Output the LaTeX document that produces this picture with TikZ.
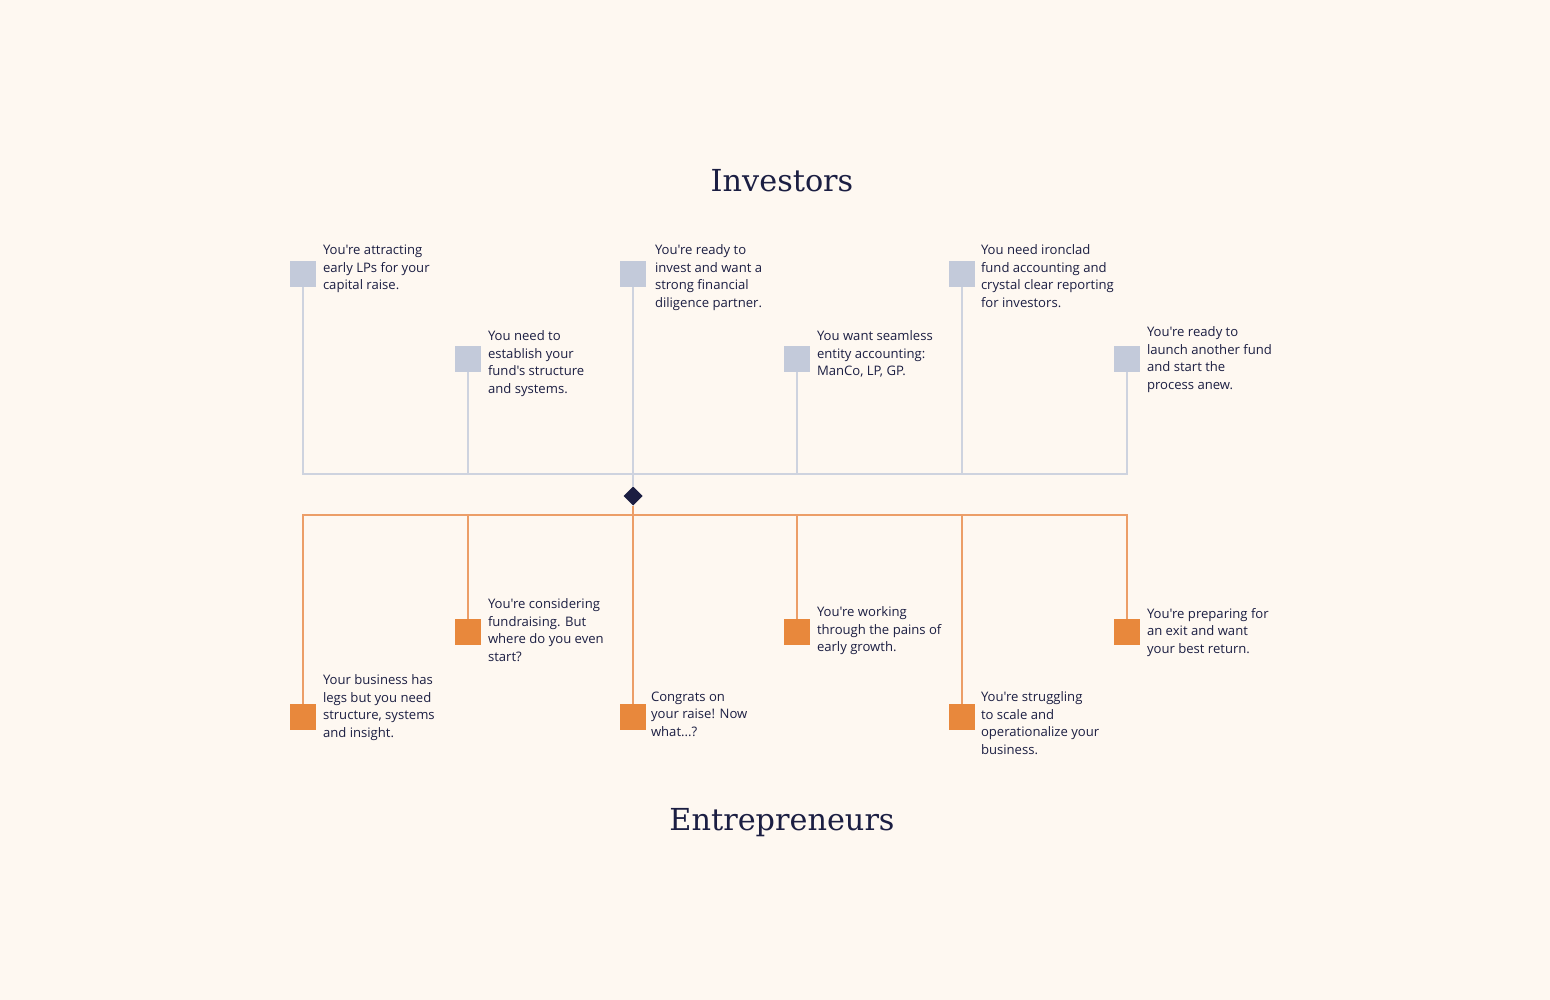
\documentclass[tikz,border=0pt]{standalone}
\usepackage{fontspec}
\usepackage{tikz}
\usetikzlibrary{positioning,calc,shapes.geometric}
\newfontfamily\bodyfont{Open Sans}
\newfontfamily\headfont{DejaVu Serif}
\definecolor{paper}{RGB}{254,248,241}
\definecolor{navy}{RGB}{27,30,66}
\definecolor{invgray}{RGB}{195,202,218}
\definecolor{invlinegray}{RGB}{206,211,223}
\definecolor{entorange}{RGB}{232,136,60}
\definecolor{entlineorange}{RGB}{236,158,104}
\tikzset{
	every node/.style={inner sep=0pt,outer sep=0pt},
	invbox/.style={rectangle,fill=invgray,minimum size=26pt},
	entbox/.style={rectangle,fill=entorange,minimum size=26pt},
	invline/.style={draw=invlinegray,line width=1.6pt},
	entline/.style={draw=entlineorange,line width=1.6pt},
	note/.style={anchor=north west,align=left,text=navy,font=\bodyfont\fontsize{13.1}{17.5}\selectfont},
	heading/.style={anchor=base,text=navy,font=\headfont\fontsize{30.3}{36}\selectfont}
}

\begin{document}
\begin{tikzpicture}[x=1pt,y=-1pt]
      \fill[paper] (0,0) rectangle (1550,1000);
      \useasboundingbox (0,0) rectangle (1550,1000);
      % headings
      \node[heading] (invtitle) at (782,192) {Investors};
      \node[heading] (enttitle) at (782,830) {Entrepreneurs};
      % investor steps
      \node[invbox] (i1) at (303,274) {};
      \node[invbox] (i2) at (468,359) {};
      \node[invbox] (i3) at (633,274) {};
      \node[invbox] (i4) at (797,359) {};
      \node[invbox] (i5) at (962,274) {};
      \node[invbox] (i6) at (1127,359) {};
      % entrepreneur steps
      \node[entbox] (e1) at (303,717) {};
      \node[entbox] (e2) at (468,632) {};
      \node[entbox] (e3) at (633,717) {};
      \node[entbox] (e4) at (797,632) {};
      \node[entbox] (e5) at (962,717) {};
      \node[entbox] (e6) at (1127,632) {};
      \node[diamond,fill=navy,minimum size=19pt] (hub) at (633,496) {};
      \coordinate (ibar) at (633,474);
      \coordinate (ebar) at (633,515);
      % connectors
      \draw[invline] (i1.south) |- (ibar) -| (i6.south);
      \draw[invline] (i2.south) -- (i2.south |- ibar);
      \draw[invline] (i4.south) -- (i4.south |- ibar);
      \draw[invline] (i5.south) -- (i5.south |- ibar);
      \draw[invline] (i3.south) -- (hub.north);
      \draw[entline] (e1.north) |- (ebar) -| (e6.north);
      \draw[entline] (e2.north) -- (e2.north |- ebar);
      \draw[entline] (e4.north) -- (e4.north |- ebar);
      \draw[entline] (e5.north) -- (e5.north |- ebar);
      \draw[entline] (hub.south) -- (e3.north);
      % texts
      \node[note] (t1) at (323,245) {You're attracting\\early LPs for your\\capital raise.};
      \node[note] (t2) at (488,331) {You need to\\establish your\\fund's structure\\and systems.};
      \node[note] (t3) at (655,245) {You're ready to\\invest and want a\\strong financial\\diligence partner.};
      \node[note] (t4) at (817,331) {You want seamless\\entity accounting:\\ManCo, LP, GP.};
      \node[note] (t5) at (981,245) {You need ironclad\\fund accounting and\\crystal clear reporting\\for investors.};
      \node[note] (t6) at (1147,327) {You're ready to\\launch another fund\\and start the\\process anew.};
      \node[note] (u1) at (323,675) {Your business has\\legs but you need\\structure, systems\\and insight.};
      \node[note] (u2) at (488,599) {You're considering\\fundraising. But\\where do you even\\start?};
      \node[note] (u3) at (651,692) {Congrats on\\your raise! Now\\what...?};
      \node[note] (u4) at (817,607) {You're working\\through the pains of\\early growth.};
      \node[note] (u5) at (981,692) {You're struggling\\to scale and\\operationalize your\\business.};
      \node[note] (u6) at (1147,608) {You're preparing for\\an exit and want\\your best return.};
    \end{tikzpicture}
\end{document}
